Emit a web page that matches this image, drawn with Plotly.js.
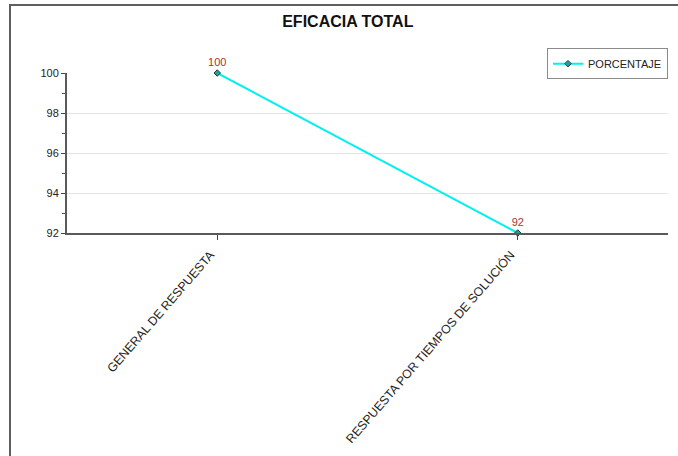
<!DOCTYPE html>
<html>
<head>
<meta charset="utf-8">
<script src="https://cdn.plot.ly/plotly-3.0.1.min.js"></script>
<style>
html,body{margin:0;padding:0;overflow:hidden;background:#fff;}
#wrap{position:relative;width:678px;height:456px;overflow:hidden;}
#chart{position:absolute;left:0;top:0;width:678px;height:456px;}
#frame{position:absolute;left:9px;top:4px;width:720px;height:500px;border:2px solid #5e5e5e;pointer-events:none;}
</style>
</head>
<body>
<div id="wrap"><div id="chart"></div><div id="frame"></div></div>
<script>
const categories = ["GENERAL DE RESPUESTA", "RESPUESTA POR TIEMPOS DE SOLUCIÓN"];
const porcentaje = [100, 92];
const seriesName = "PORCENTAJE";
const chartTitle = "EFICACIA TOTAL";
const yTicks = [92, 94, 96, 98, 100];

const trace = {
  x: categories,
  y: porcentaje,
  name: seriesName,
  type: 'scatter',
  mode: 'lines+markers+text',
  text: porcentaje.map(String),
  textposition: 'top center',
  textfont: {family: 'Liberation Sans, Arial, sans-serif', size: 11, color: '#a83232'},
  line: {color: '#00f0f0', width: 2},
  marker: {symbol: 'diamond', size: 5, color: '#1aa5a5', line: {color: '#1d3d3d', width: 1}},
  cliponaxis: false
};

const layout = {
  width: 678, height: 456,
  margin: {l: 67, r: 10, t: 73, b: 223},
  paper_bgcolor: '#ffffff', plot_bgcolor: '#ffffff',
  font: {family: 'Liberation Sans, Arial, sans-serif', size: 11, color: '#222'},
  title: {text: '<b>' + chartTitle + '</b>', font: {size: 16, color: '#111'},
          xref: 'container', x: 0.513, xanchor: 'center', yref: 'container', y: 0.952, yanchor: 'middle'},
  showlegend: true,
  legend: {x: 1, xanchor: 'right', y: 1.155, yanchor: 'top', bordercolor: '#8a8a8a', borderwidth: 1,
           bgcolor: '#fff', font: {size: 11, color: '#222'}, itemwidth: 30},
  xaxis: {
    type: 'category', range: [-0.5, 1.5],
    tickangle: -49, ticks: 'outside', ticklen: 5, tickcolor: '#444',
    ticklabelshift: -7, ticklabelstandoff: 3,
    showline: true, linecolor: '#5a5a5a', linewidth: 2,
    showgrid: false, zeroline: false,
    tickfont: {size: 12.3, color: '#222'}
  },
  yaxis: {
    range: [92, 100], tickvals: yTicks, ticktext: yTicks.map(String),
    ticks: 'outside', ticklen: 4, tickcolor: '#444',
    minor: {dtick: 1, tick0: 92, ticks: 'outside', ticklen: 3, tickcolor: '#555', showgrid: false},
    showline: true, linecolor: '#5a5a5a', linewidth: 2,
    showgrid: true, gridcolor: '#e4e4e4', gridwidth: 1, zeroline: false,
    tickfont: {size: 11, color: '#222'}
  }
};

Plotly.newPlot('chart', [trace], layout, {displayModeBar: false, staticPlot: true});
</script>
</body>
</html>
